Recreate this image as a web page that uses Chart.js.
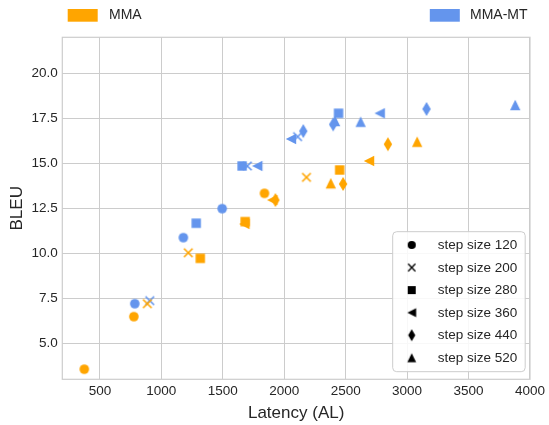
<!DOCTYPE html>
<html>
<head>
<meta charset="utf-8">
<script src="https://cdn.jsdelivr.net/npm/chart.js@4.4.0/dist/chart.umd.min.js"></script>
<style>
    html, body { margin: 0; padding: 0; background: #fff; }
    #wrap { width: 549px; height: 425px; }
</style>
</head>
<body>
<div id="wrap"><canvas id="chart" width="549" height="425"></canvas></div>
<script>
const STEP_SIZES = [120, 200, 280, 360, 440, 520];
const MARKERS = ['circle', 'x', 'square', 'left', 'thin_diamond', 'triangle'];

const MODELS = ['MMA', 'MMA-MT'];
const COLORS = ['#ffa500', '#6495ed'];

// one inner list per step size
const MMA_AL = [
    [373, 776, 1839],
    [886, 1219, 2181],
    [1317, 1682, 2451],
    [1676, 1903, 2690],
    [1928, 2479, 2844],
    [2379, 3082],
];
const MMA_BLEU = [
    [3.56, 6.48, 13.33],
    [7.2, 10.03, 14.22],
    [9.72, 11.76, 14.63],
    [11.63, 12.96, 15.13],
    [12.96, 13.85, 16.06],
    [13.89, 16.2],
];
const MT_AL = [
    [784, 1179, 1495],
    [906, 1700, 2109],
    [1284, 1657, 2442],
    [1781, 2055, 2777],
    [2155, 2398, 3158],
    [2414, 2622, 3880],
];
const MT_BLEU = [
    [7.2, 10.87, 12.48],
    [7.37, 14.85, 16.48],
    [11.67, 14.85, 17.78],
    [14.85, 16.35, 17.78],
    [16.79, 17.16, 18.02],
    [17.35, 17.31, 18.24],
];

const X_TICKS = [500, 1000, 1500, 2000, 2500, 3000, 3500, 4000];
const Y_TICKS = [5, 7.5, 10, 12.5, 15, 17.5, 20];

const FONT = '"Liberation Sans", Arial, sans-serif';
const TEXT = '#262626';
const GRID = '#cccccc';

function markerCanvas(kind, color, k) {
    const s = k || 1;
    const size = 18;
    const c = document.createElement('canvas');
    c.width = size;
    c.height = size;
    const ctx = c.getContext('2d');
    const m = size / 2;
    ctx.fillStyle = color;
    ctx.strokeStyle = color;
    ctx.beginPath();
    if (kind === 'circle') {
        ctx.arc(m, m, 4.8 * s, 0, Math.PI * 2);
        ctx.fill();
    } else if (kind === 'x') {
        const d = 4.3 * s;
        ctx.lineWidth = 1.6 * s;
        ctx.moveTo(m - d, m - d);
        ctx.lineTo(m + d, m + d);
        ctx.moveTo(m + d, m - d);
        ctx.lineTo(m - d, m + d);
        ctx.stroke();
    } else if (kind === 'square') {
        ctx.rect(m - 4.7 * s, m - 4.7 * s, 9.4 * s, 9.4 * s);
        ctx.fill();
    } else if (kind === 'left') {
        const d = 5.2 * s;
        ctx.moveTo(m - d, m);
        ctx.lineTo(m + d, m - d);
        ctx.lineTo(m + d, m + d);
        ctx.closePath();
        ctx.fill();
    } else if (kind === 'thin_diamond') {
        ctx.moveTo(m, m - 7 * s);
        ctx.lineTo(m + 4.2 * s, m);
        ctx.lineTo(m, m + 7 * s);
        ctx.lineTo(m - 4.2 * s, m);
        ctx.closePath();
        ctx.fill();
    } else {
        const d = 5.2 * s;
        ctx.moveTo(m, m - d);
        ctx.lineTo(m + d, m + d);
        ctx.lineTo(m - d, m + d);
        ctx.closePath();
        ctx.fill();
    }
    return c;
}

function buildDatasets() {
    const out = [];
    const series = [[MMA_AL, MMA_BLEU], [MT_AL, MT_BLEU]];
    series.forEach(function (pair, mi) {
        STEP_SIZES.forEach(function (step, si) {
            const xs = pair[0][si];
            const ys = pair[1][si];
            out.push({
                label: MODELS[mi] + ' step size ' + step,
                data: xs.map(function (x, i) { return { x: x, y: ys[i] }; }),
                pointStyle: markerCanvas(MARKERS[si], COLORS[mi]),
                pointRadius: 5,
                pointHoverRadius: 5,
                showLine: false,
            });
        });
    });
    return out;
}

const framePlugin = {
    id: 'frame',
    afterDatasetsDraw: function (chart) {
        const a = chart.chartArea;
        const ctx = chart.ctx;
        ctx.save();
        ctx.strokeStyle = GRID;
        ctx.lineWidth = 1.2;
        ctx.strokeRect(a.left, a.top, a.right - a.left, a.bottom - a.top);
        ctx.restore();
    },
};

const legendPlugin = {
    id: 'legends',
    afterDraw: function (chart) {
        const ctx = chart.ctx;
        ctx.save();
        ctx.font = '14px ' + FONT;
        ctx.textBaseline = 'middle';
        ctx.textAlign = 'left';

        // model legend above the plot
        const top = [
            { box: 67.7, text: 109 },
            { box: 429.8, text: 470 },
        ];
        MODELS.forEach(function (name, i) {
            ctx.fillStyle = COLORS[i];
            ctx.fillRect(top[i].box, 9, 30, 12.7);
            ctx.fillStyle = TEXT;
            ctx.fillText(name, top[i].text, 15.6);
        });

        // step size legend inside the plot
        const bx = 392.7, by = 231.7, bw = 132.5, bh = 140;
        ctx.beginPath();
        ctx.roundRect(bx, by, bw, bh, 4);
        ctx.fillStyle = 'rgba(255, 255, 255, 0.85)';
        ctx.fill();
        ctx.strokeStyle = GRID;
        ctx.lineWidth = 1;
        ctx.stroke();

        ctx.font = '13.5px ' + FONT;
        STEP_SIZES.forEach(function (step, i) {
            const y = 245 + i * 22.55;
            const img = markerCanvas(MARKERS[i], '#000000', 0.85);
            ctx.drawImage(img, 411.7 - img.width / 2, y - img.height / 2);
            ctx.fillStyle = TEXT;
            ctx.fillText('step size ' + step, 437.7, y + 0.5);
        });
        ctx.restore();
    },
};

new Chart(document.getElementById('chart'), {
    type: 'scatter',
    data: { datasets: buildDatasets() },
    options: {
        responsive: false,
        animation: false,
        events: [],
        layout: { padding: { top: 37.3, right: 17.3, left: 0, bottom: 0 } },
        plugins: {
            legend: { display: false },
            tooltip: { enabled: false },
        },
        scales: {
            x: {
                type: 'linear',
                min: 194,
                max: 4000,
                afterBuildTicks: function (axis) {
                    axis.ticks = X_TICKS.map(function (v) { return { value: v }; });
                },
                afterFit: function (scale) { scale.height = 45.7; },
                grid: { color: GRID, lineWidth: 1, drawTicks: false },
                border: { display: false },
                ticks: {
                    color: TEXT,
                    font: { family: FONT, size: 13.5 },
                    padding: 4,
                    maxRotation: 0,
                    autoSkip: false,
                    callback: function (v) { return String(v); },
                },
                title: {
                    display: true,
                    text: 'Latency (AL)',
                    color: TEXT,
                    font: { family: FONT, size: 17, lineHeight: 1.2 },
                    padding: { top: 0, bottom: 1.3 },
                },
            },
            y: {
                type: 'linear',
                min: 3,
                max: 22,
                afterBuildTicks: function (axis) {
                    axis.ticks = Y_TICKS.map(function (v) { return { value: v }; });
                },
                afterFit: function (scale) { scale.width = 62.3; },
                grid: { color: GRID, lineWidth: 1, drawTicks: false },
                border: { display: false },
                ticks: {
                    color: TEXT,
                    font: { family: FONT, size: 13.5 },
                    padding: 4.5,
                    autoSkip: false,
                    callback: function (v) { return Number(v).toFixed(1); },
                },
                title: {
                    display: true,
                    text: 'BLEU',
                    color: TEXT,
                    font: { family: FONT, size: 17, lineHeight: 1.2 },
                    padding: { top: 7.3, bottom: 0 },
                },
            },
        },
    },
    plugins: [framePlugin, legendPlugin],
});
</script>
</body>
</html>
